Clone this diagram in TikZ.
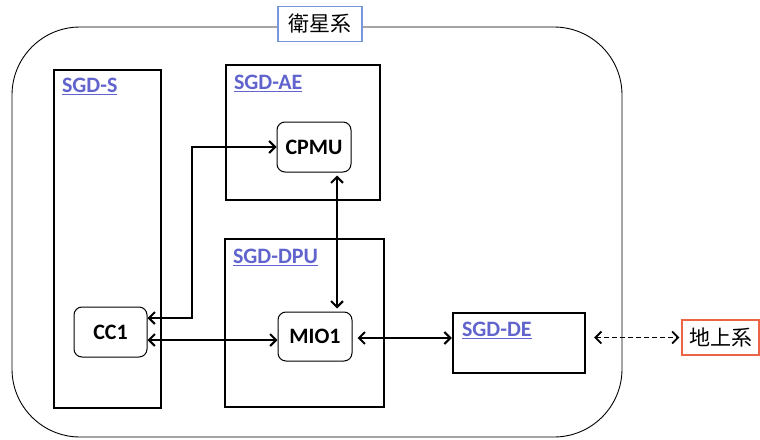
\documentclass[tikz,border=0pt]{standalone}
\usepackage{fontspec}
\setmainfont{Carlito}
\newfontfamily\cjkfont{Noto Sans CJK JP}
\usepackage{tikz}
\usetikzlibrary{positioning, arrows.meta}
\definecolor{linkblue}{RGB}{96,100,204}
\definecolor{titleblue}{RGB}{120,150,220}
\definecolor{groundred}{RGB}{235,100,70}
\tikzstyle{sub}=[%
      rectangle, draw=black, line width=2.4pt, fill=none, inner sep=0pt
]
\tikzstyle{unit}=[%
      rectangle, rounded corners=8pt, draw=black, line width=1pt, fill=white,
      font=\bfseries\fontsize{22}{26}\selectfont, inner sep=0pt
]
\tikzstyle{lbl}=[%
      text=linkblue, font=\bfseries\fontsize{22}{26}\selectfont, inner sep=0pt
]
\tikzstyle{sys}=[%
      rectangle, draw, line width=1.2pt, fill=white,
      font=\cjkfont\fontsize{21}{25}\selectfont, inner sep=0pt
]
\tikzstyle{link}=[%
      line width=2pt, {Straight Barb[length=6pt,width=12pt]}-{Straight Barb[length=6pt,width=12pt]}
]

\begin{document}
\begin{tikzpicture}[x=1pt, y=-1pt]
    \useasboundingbox (0,0) rectangle (760,439);

    \node[draw, line width=0.9pt, rounded corners=68pt, minimum width=610pt, minimum height=410pt] (frame) at (317,232) {};
    \node[sys, draw=titleblue, minimum width=84pt, minimum height=35pt] (sat) at (320,24) {衛星系};

    \node[sub, minimum width=107pt, minimum height=338pt] (sgds) at (107.5,239) {};
    \node[sub, minimum width=154pt, minimum height=135pt] (sgdae) at (303,132.5) {};
    \node[sub, minimum width=159pt, minimum height=168pt] (sgddpu) at (304.5,323) {};
    \node[sub, minimum width=132pt, minimum height=60pt] (sgdde) at (519,343) {};

    \node[lbl, below right=9pt and 9pt of sgds.north west] (sgdslbl) {\underline{SGD-S}};
    \node[lbl, below right=11pt and 9pt of sgdae.north west] (sgdaelbl) {\underline{SGD-AE}};
    \node[lbl, below right=11pt and 9pt of sgddpu.north west] (sgddpulbl) {\underline{SGD-DPU}};
    \node[lbl, below right=10pt and 10pt of sgdde.north west] (sgddelbl) {\underline{SGD-DE}};

    \node[unit, minimum width=74pt, minimum height=50pt] (cpmu) at (314,147) {CPMU};
    \node[unit, minimum width=74pt, minimum height=49pt] (mio1) at (315,336.5) {MIO1};
    \node[unit, minimum width=73pt, minimum height=50pt] (cc1) at (110.5,332) {CC1};

    \node[sys, draw=groundred, minimum width=77pt, minimum height=35pt] (gnd) at (720.5,337.5) {地上系};

    \draw[link] ([yshift=14pt]cc1.east) -- ++(44,0) |- (cpmu.west);
    \draw[link] ([yshift=-8pt]cc1.east) -- ([yshift=-8pt]cc1.east -| mio1.west);
    \draw[link, shorten <=3pt, shorten >=3pt] ([xshift=23pt]cpmu.south) -- ([xshift=23pt]cpmu.south |- mio1.north);
    \draw[link, shorten <=5pt] ([yshift=-1.5pt]mio1.east) -- ([yshift=-1.5pt]mio1.east -| sgdde.west);
    \draw[link, line width=1.8pt, dash pattern=on 5pt off 3pt, shorten <=8pt, shorten >=2pt] (sgdde.east |- gnd.west) -- (gnd.west);
\end{tikzpicture}
\end{document}
